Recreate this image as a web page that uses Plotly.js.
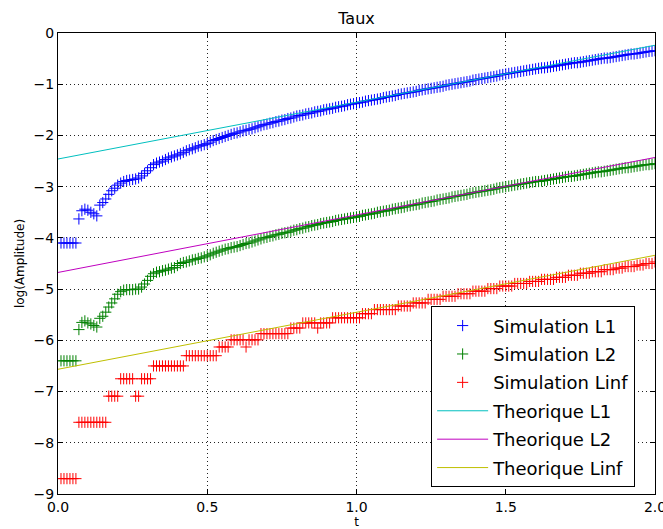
<!DOCTYPE html>
<html>
<head>
<meta charset="utf-8">
<script src="https://cdn.plot.ly/plotly-3.0.1.min.js"></script>
<style>html,body{margin:0;padding:0;background:#fff;}#chart{width:663px;height:529px;}</style>
</head>
<body>
<div id="chart"></div>
<script>
// time samples
var tVals = [
0.01,0.02,0.03,0.04,0.05,0.06,0.07,0.08,0.09,0.10,
0.11,0.12,0.13,0.14,0.15,0.16,0.17,0.18,0.19,0.20,
0.21,0.22,0.23,0.24,0.25,0.26,0.27,0.28,0.29,0.30,
0.31,0.32,0.33,0.34,0.35,0.36,0.37,0.38,0.39,0.40,
0.41,0.42,0.43,0.44,0.45,0.46,0.47,0.48,0.49,0.50,
0.51,0.52,0.53,0.54,0.55,0.56,0.57,0.58,0.59,0.60,
0.61,0.62,0.63,0.64,0.65,0.66,0.67,0.68,0.69,0.70,
0.71,0.72,0.73,0.74,0.75,0.76,0.77,0.78,0.79,0.80,
0.81,0.82,0.83,0.84,0.85,0.86,0.87,0.88,0.89,0.90,
0.91,0.92,0.93,0.94,0.95,0.96,0.97,0.98,0.99,1.00,
1.01,1.02,1.03,1.04,1.05,1.06,1.07,1.08,1.09,1.10,
1.11,1.12,1.13,1.14,1.15,1.16,1.17,1.18,1.19,1.20,
1.21,1.22,1.23,1.24,1.25,1.26,1.27,1.28,1.29,1.30,
1.31,1.32,1.33,1.34,1.35,1.36,1.37,1.38,1.39,1.40,
1.41,1.42,1.43,1.44,1.45,1.46,1.47,1.48,1.49,1.50,
1.51,1.52,1.53,1.54,1.55,1.56,1.57,1.58,1.59,1.60,
1.61,1.62,1.63,1.64,1.65,1.66,1.67,1.68,1.69,1.70,
1.71,1.72,1.73,1.74,1.75,1.76,1.77,1.78,1.79,1.80,
1.81,1.82,1.83,1.84,1.85,1.86,1.87,1.88,1.89,1.90,
1.91,1.92,1.93,1.94,1.95,1.96,1.97,1.98,1.99,2.00
];

var simL1 = [
-4.10,-4.10,-4.10,-4.10,-4.10,-4.10,-3.63,-3.47,-3.44,-3.46,
-3.50,-3.53,-3.57,-3.36,-3.31,-3.24,-3.15,-3.08,-3.03,-2.97,
-2.93,-2.90,-2.88,-2.87,-2.86,-2.85,-2.83,-2.79,-2.74,-2.69,
-2.63,-2.57,-2.54,-2.52,-2.50,-2.47,-2.44,-2.42,-2.40,-2.38,
-2.36,-2.33,-2.30,-2.28,-2.26,-2.24,-2.21,-2.20,-2.18,-2.16,
-2.13,-2.10,-2.08,-2.06,-2.04,-2.02,-2.00,-1.98,-1.96,-1.95,
-1.93,-1.91,-1.90,-1.88,-1.87,-1.85,-1.83,-1.81,-1.79,-1.78,
-1.76,-1.75,-1.73,-1.72,-1.70,-1.69,-1.67,-1.66,-1.64,-1.62,
-1.61,-1.60,-1.58,-1.57,-1.56,-1.54,-1.53,-1.52,-1.50,-1.49,
-1.48,-1.47,-1.45,-1.44,-1.43,-1.42,-1.40,-1.39,-1.38,-1.37,
-1.36,-1.35,-1.33,-1.32,-1.31,-1.30,-1.29,-1.28,-1.26,-1.25,
-1.24,-1.23,-1.22,-1.20,-1.19,-1.18,-1.17,-1.16,-1.15,-1.14,
-1.12,-1.11,-1.10,-1.09,-1.08,-1.07,-1.06,-1.05,-1.04,-1.02,
-1.01,-1.00,-0.99,-0.98,-0.97,-0.96,-0.95,-0.94,-0.92,-0.91,
-0.90,-0.89,-0.88,-0.87,-0.86,-0.85,-0.84,-0.82,-0.81,-0.80,
-0.79,-0.78,-0.77,-0.76,-0.75,-0.74,-0.73,-0.72,-0.71,-0.70,
-0.69,-0.68,-0.68,-0.67,-0.66,-0.65,-0.64,-0.63,-0.62,-0.61,
-0.60,-0.59,-0.58,-0.58,-0.57,-0.56,-0.55,-0.54,-0.53,-0.52,
-0.51,-0.50,-0.49,-0.49,-0.48,-0.47,-0.46,-0.45,-0.44,-0.43,
-0.42,-0.41,-0.41,-0.40,-0.39,-0.38,-0.37,-0.36,-0.355,-0.345
];

var simL2 = [
-6.40,-6.40,-6.40,-6.40,-6.40,-6.40,-5.79,-5.65,-5.62,-5.66,
-5.68,-5.71,-5.74,-5.57,-5.53,-5.45,-5.35,-5.27,-5.19,-5.10,
-5.05,-5.02,-5.01,-5.01,-5.01,-5.00,-5.00,-4.96,-4.90,-4.83,
-4.75,-4.70,-4.67,-4.66,-4.64,-4.63,-4.61,-4.59,-4.58,-4.54,
-4.50,-4.48,-4.47,-4.45,-4.43,-4.42,-4.40,-4.39,-4.37,-4.35,
-4.33,-4.30,-4.28,-4.26,-4.24,-4.22,-4.21,-4.19,-4.18,-4.17,
-4.15,-4.13,-4.11,-4.10,-4.08,-4.06,-4.04,-4.02,-4.00,-3.99,
-3.97,-3.96,-3.94,-3.93,-3.91,-3.90,-3.89,-3.87,-3.85,-3.84,
-3.82,-3.81,-3.79,-3.78,-3.76,-3.75,-3.74,-3.72,-3.71,-3.70,
-3.69,-3.68,-3.66,-3.65,-3.64,-3.63,-3.62,-3.61,-3.60,-3.59,
-3.58,-3.56,-3.55,-3.54,-3.53,-3.52,-3.50,-3.49,-3.48,-3.47,
-3.46,-3.44,-3.43,-3.42,-3.41,-3.40,-3.38,-3.37,-3.36,-3.35,
-3.34,-3.32,-3.31,-3.30,-3.29,-3.28,-3.26,-3.25,-3.24,-3.23,
-3.22,-3.20,-3.19,-3.18,-3.17,-3.16,-3.15,-3.13,-3.12,-3.11,
-3.10,-3.09,-3.08,-3.07,-3.06,-3.05,-3.03,-3.02,-3.01,-3.00,
-2.99,-2.98,-2.97,-2.96,-2.95,-2.94,-2.93,-2.92,-2.91,-2.90,
-2.90,-2.89,-2.88,-2.87,-2.86,-2.85,-2.84,-2.83,-2.82,-2.81,
-2.80,-2.80,-2.79,-2.78,-2.77,-2.76,-2.75,-2.74,-2.73,-2.72,
-2.71,-2.71,-2.70,-2.69,-2.68,-2.67,-2.66,-2.65,-2.64,-2.63,
-2.63,-2.62,-2.61,-2.60,-2.59,-2.58,-2.57,-2.57,-2.56,-2.55
];

var simLinf = [
-8.70,-8.70,-8.70,-8.70,-8.70,-8.70,-7.60,-7.60,-7.60,-7.60,
-7.60,-7.60,-7.60,-7.60,-7.60,-7.60,-7.09,-7.09,-7.09,-7.09,
-6.75,-6.75,-6.75,-6.75,-6.75,-7.09,-7.09,-6.75,-6.75,-6.75,
-6.75,-6.50,-6.50,-6.50,-6.50,-6.50,-6.50,-6.50,-6.50,-6.50,
-6.50,-6.50,-6.30,-6.30,-6.30,-6.30,-6.30,-6.30,-6.30,-6.30,
-6.30,-6.30,-6.30,-6.13,-6.13,-6.13,-6.13,-5.99,-5.99,-5.99,
-5.99,-5.99,-6.13,-5.99,-5.99,-5.99,-5.99,-5.87,-5.87,-5.87,
-5.87,-5.87,-5.87,-5.87,-5.87,-5.87,-5.87,-5.76,-5.76,-5.76,
-5.76,-5.66,-5.66,-5.66,-5.66,-5.66,-5.76,-5.66,-5.66,-5.66,
-5.66,-5.56,-5.56,-5.56,-5.56,-5.56,-5.56,-5.56,-5.56,-5.56,
-5.56,-5.48,-5.48,-5.48,-5.48,-5.40,-5.40,-5.40,-5.40,-5.40,
-5.40,-5.40,-5.40,-5.33,-5.33,-5.33,-5.33,-5.33,-5.27,-5.27,
-5.27,-5.27,-5.27,-5.20,-5.20,-5.20,-5.20,-5.20,-5.14,-5.14,
-5.14,-5.14,-5.14,-5.09,-5.09,-5.09,-5.09,-5.09,-5.04,-5.04,
-5.04,-5.04,-5.04,-4.99,-4.99,-4.99,-4.99,-4.94,-4.94,-4.94,
-4.94,-4.94,-4.89,-4.89,-4.89,-4.89,-4.89,-4.85,-4.85,-4.85,
-4.85,-4.81,-4.81,-4.81,-4.81,-4.81,-4.77,-4.77,-4.77,-4.77,
-4.73,-4.73,-4.73,-4.73,-4.69,-4.69,-4.69,-4.69,-4.66,-4.66,
-4.66,-4.66,-4.62,-4.62,-4.62,-4.62,-4.59,-4.59,-4.59,-4.56,
-4.56,-4.56,-4.56,-4.53,-4.53,-4.53,-4.50,-4.50,-4.50,-4.47
];

// theoretical lines (end points)
var thT = [0, 2];
var thL1 = [-2.46, -0.24];
var thL2 = [-4.675, -2.43];
var thLinf = [-6.565, -4.34];

// tick values
var xTicks = [0, 0.5, 1, 1.5, 2];
var xTickText = ['0.0', '0.5', '1.0', '1.5', '2.0'];
var yTicks = [0, -1, -2, -3, -4, -5, -6, -7, -8, -9];
var yTickText = ['0', '\u22121', '\u22122', '\u22123', '\u22124', '\u22125', '\u22126', '\u22127', '\u22128', '\u22129'];

var names = ['Simulation L1','Simulation L2','Simulation Linf','Theorique L1','Theorique L2','Theorique Linf'];
var simColors = ['#0000ff','#008000','#ff0000'];
var thColors = ['#00bfbf','#bf00bf','#bfbf00'];

function simTrace(y, i) {
  return {x: tVals, y: y, type: 'scatter', mode: 'markers', name: names[i],
    legendgroup: 'g' + i,
    marker: {symbol: 'cross-thin', size: 8, color: simColors[i], line: {width: 1, color: simColors[i]}}};
}
function thTrace(y, i) {
  return {x: thT, y: y, type: 'scatter', mode: 'lines', name: names[i + 3],
    legendgroup: 'g' + (i + 3),
    line: {color: thColors[i], width: 1}};
}

var data = [simTrace(simL1, 0), simTrace(simL2, 1), simTrace(simLinf, 2),
            thTrace(thL1, 0), thTrace(thL2, 1), thTrace(thLinf, 2)];

var axisCommon = {
  showline: true, mirror: 'ticks', linecolor: 'black', linewidth: 1,
  ticks: 'inside', ticklen: 5, tickcolor: 'black', tickwidth: 1,
  showgrid: true, gridcolor: '#222', griddash: '1px,3px', gridwidth: 1,
  zeroline: false, tickfont: {size: 14, color: 'black'}, tickmode: 'array',
  ticklabeloverflow: 'allow'
};

var layout = {
  width: 663, height: 529,
  margin: {l: 58, r: 8, t: 33, b: 35},
  paper_bgcolor: 'white', plot_bgcolor: 'white',
  font: {family: 'DejaVu Sans', color: 'black'},
  title: {text: 'Taux', font: {size: 16, color: 'black'}, x: 0.5, xref: 'paper', y: 0.965, yref: 'container', yanchor: 'middle'},
  xaxis: Object.assign({}, axisCommon, {range: [0, 2], tickvals: xTicks, ticktext: xTickText,
    title: {text: 't', font: {size: 12}, standoff: 2}}),
  yaxis: Object.assign({}, axisCommon, {range: [-9, 0], tickvals: yTicks, ticktext: yTickText,
    title: {text: 'log(Amplitude)', font: {size: 12}, standoff: 6}}),
  showlegend: true,
  legend: {x: 0.625, y: 0.407, xanchor: 'left', yanchor: 'top',
    bgcolor: 'white', bordercolor: 'black', borderwidth: 1,
    font: {size: 18, color: 'black'}, traceorder: 'grouped', tracegroupgap: 2, itemwidth: 51}
};

Plotly.newPlot('chart', data, layout, {displayModeBar: false, staticPlot: true});
</script>
</body>
</html>
